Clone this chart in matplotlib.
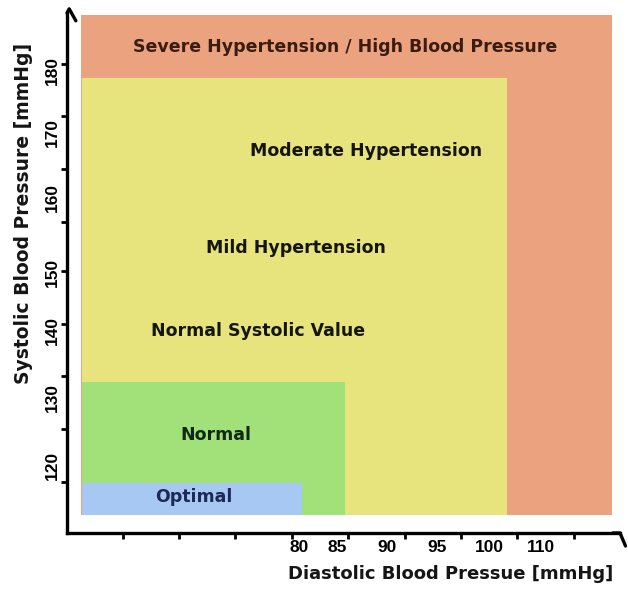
import matplotlib
matplotlib.use("Agg")
import matplotlib.pyplot as plt

plt.rcParams['font.family'] = ['DejaVu Sans']

# zone boxes (diastolic / systolic, mmHg)
zone_names = ["severe", "yellow", "normal", "optimal"]
zone_dia_lo = [58.4, 58.5, 58.5, 58.5]
zone_dia_hi = [110.2, 100.0, 84.2, 80.0]
zone_sys_lo = [112.4, 112.4, 112.4, 112.4]
zone_sys_hi = [188.4, 178.8, 132.6, 117.3]
zone_colors = ["#EBA27F", "#E8E47D", "#A2E07A", "#A6C8F2"]

# text inside the zones
zone_labels = ["Severe Hypertension / High Blood Pressure", "Moderate Hypertension",
               "Mild Hypertension", "Normal Systolic Value", "Normal", "Optimal"]
zone_label_x = [84.2, 86.2, 79.4, 75.7, 71.6, 69.4]
zone_label_y = [183.6, 167.7, 153.0, 140.4, 124.6, 115.1]
zone_label_colors = ["#3a1c12", "#151510", "#151510", "#151510", "#0f2a0f", "#1c2a55"]

# axis labels sit where the picture puts them, not exactly on their values
dia_ticks = [79.7, 83.4, 88.3, 93.2, 98.3, 103.3]
dia_ticklabels = ["80", "85", "90", "95", "100", "110"]
dia_marks = [62.5, 68, 73.5, 79, 84.5, 90, 95.5, 101, 106.5]
sys_ticks = [120, 130.3, 140.5, 149.3, 160.6, 170.6, 180]
sys_ticklabels = ["120", "130", "140", "150", "160", "170", "180"]
sys_marks = [117.5, 125.5, 133.5, 141.5, 149.5, 157, 165, 173, 181]

W, H = 628, 595
fig = plt.figure(figsize=(W / 100, H / 100), dpi=100)
ax = fig.add_axes([67 / W, 62 / H, 553 / W, 520 / H])

for lo, hi, blo, bhi, c in zip(zone_dia_lo, zone_dia_hi, zone_sys_lo, zone_sys_hi, zone_colors):
    ax.bar(lo, bhi - blo, width=hi - lo, bottom=blo, align='edge', color=c, linewidth=0)

for txt, x, y, c in zip(zone_labels, zone_label_x, zone_label_y, zone_label_colors):
    ax.text(x, y, txt, ha='center', va='center', fontsize=12.5, fontweight='bold', color=c)

ax.set_xlim(57.07, 111.0)
ax.set_ylim(109.7, 188.7)

for s in ['top', 'right']:
    ax.spines[s].set_visible(False)
for s in ['left', 'bottom']:
    ax.spines[s].set_linewidth(2.4)
    ax.spines[s].set_color('black')

ax.set_xticks(dia_ticks, dia_ticklabels)
ax.set_yticks(sys_ticks, sys_ticklabels)
ax.set_xticks(dia_marks, minor=True)
ax.set_yticks(sys_marks, minor=True)
ax.tick_params(which='major', length=0, pad=5)
ax.tick_params(which='minor', length=4, width=2, direction='out', color='black')
for lab in ax.get_xticklabels() + ax.get_yticklabels():
    lab.set_fontfamily(['Liberation Sans Narrow', 'Liberation Sans'])
    lab.set_fontweight('bold')
    lab.set_fontsize(12.5)
for lab in ax.get_yticklabels():
    lab.set_rotation(90)
    lab.set_va('center')

# little hooks at the axis ends
ax.plot([0.0, 0.004, 0.016], [1.0, 1.008, 0.985], transform=ax.transAxes,
        color='black', lw=2.4, clip_on=False, solid_capstyle='round')
ax.plot([0.987, 1.0, 1.01], [0.0, 0.0, -0.025], transform=ax.transAxes,
        color='black', lw=2.4, clip_on=False, solid_capstyle='round')

fig.text(451 / W, 1 - 574 / H, "Diastolic Blood Pressue [mmHg]", ha='center', va='center',
         fontsize=13, fontweight='bold', color='#151515')
fig.text(24 / W, 1 - 213 / H, "Systolic Blood Pressure [mmHg]", ha='center', va='center',
         rotation=90, fontsize=13.5, fontweight='bold', color='#151515')

fig.savefig("out.png", dpi=100, facecolor='white')
